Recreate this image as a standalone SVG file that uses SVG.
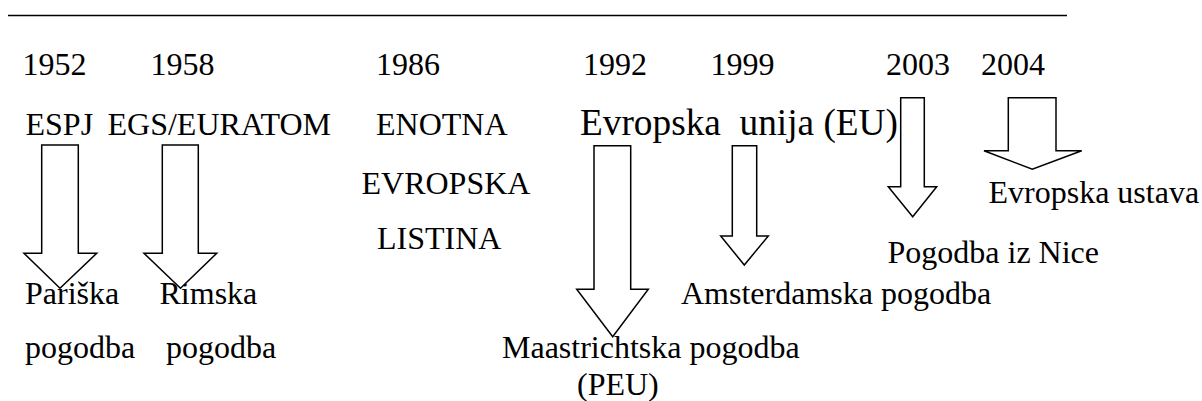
<svg xmlns="http://www.w3.org/2000/svg" width="1202" height="401" viewBox="0 0 1202 401">
<style>
text{font-family:"Times New Roman","Liberation Serif",serif;font-size:32px;fill:#000}
.big{font-size:37.3px}
.arrow{fill:#fff;stroke:#000;stroke-width:1.5;stroke-linejoin:miter}
</style>
<rect width="1202" height="401" fill="#fff"/>
<line x1="8" y1="15.5" x2="1067" y2="15.5" stroke="#000" stroke-width="1.6"/>
<g id="years">
<text x="22.5" y="74.5">1952</text>
<text x="150.5" y="74.5">1958</text>
<text x="376" y="74.5">1986</text>
<text x="583" y="74.5">1992</text>
<text x="710.5" y="74.5">1999</text>
<text x="886" y="74.5">2003</text>
<text x="981" y="74.5">2004</text>
</g>
<g id="n-espj"><text x="25.5" y="134.5">ESPJ</text></g>
<g id="n-egs"><text x="107.5" y="134.5">EGS/EURATOM</text></g>
<g id="n-eel"><text x="376" y="134.5">ENOTNA</text><text x="361.5" y="194">EVROPSKA</text><text x="377" y="248.5">LISTINA</text></g>
<g id="n-eu"><text class="big" x="580" y="134.5" xml:space="preserve">Evropska  unija (EU)</text></g>
<g id="n-pariska"><text x="25" y="304">Pariška</text><text x="25" y="358">pogodba</text></g>
<g id="n-rimska"><text x="159.5" y="304">Rimska</text><text x="166" y="358">pogodba</text></g>
<g id="n-maastricht"><text x="502" y="358">Maastrichtska pogodba</text><text x="577" y="395">(PEU)</text></g>
<g id="n-amsterdam"><text x="681" y="304">Amsterdamska pogodba</text></g>
<g id="n-nice"><text x="887.5" y="263">Pogodba iz Nice</text></g>
<g id="n-ustava"><text x="988.5" y="203">Evropska ustava</text></g>
<g id="connectors">
<polygon class="arrow" points="41.7,145 78.3,145 78.3,253.3 96.7,253.3 60,288.3 24,253.3 41.7,253.3"/>
<polygon class="arrow" points="162.3,145 198.3,145 198.3,253.3 216.7,253.3 180.5,288.3 144,253.3 162.3,253.3"/>
<polygon class="arrow" points="594,145.7 630.7,145.7 630.7,289.3 648.3,289.3 612.7,336.7 576.7,289.3 594,289.3"/>
<polygon class="arrow" points="732.3,145.7 756.7,145.7 756.7,236 768.3,236 744.3,265 720.7,236 732.3,236"/>
<polygon class="arrow" points="900.7,97.7 924.3,97.7 924.3,186.7 936.7,186.7 912.7,216.7 888.3,186.7 900.7,186.7"/>
<polygon class="arrow" points="1008.3,97.7 1056,97.7 1056,150.7 1081.7,150.7 1032.3,169.3 984,150.7 1008.3,150.7"/>
</g>
</svg>
